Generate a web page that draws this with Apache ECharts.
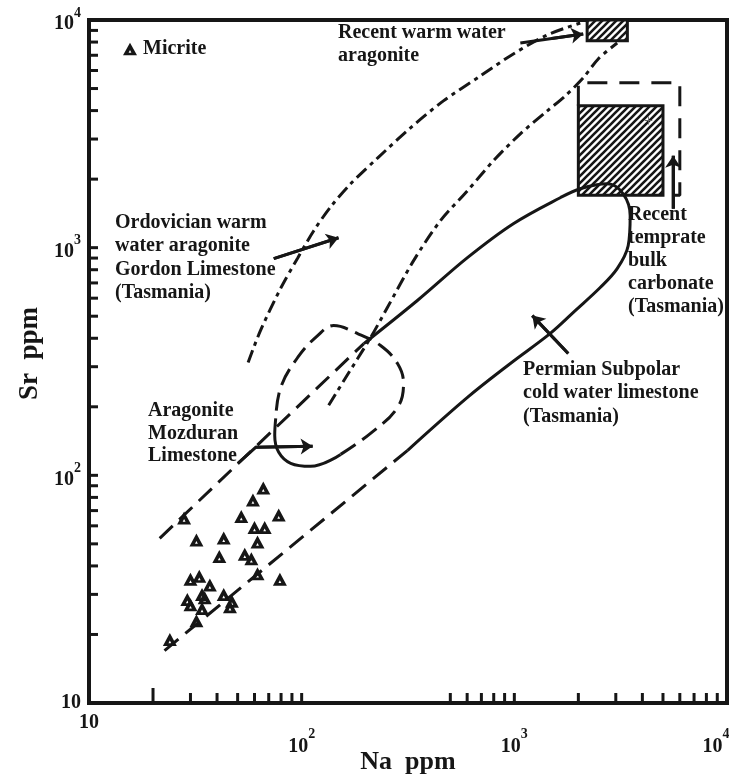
<!DOCTYPE html>
<html>
<head>
<meta charset="utf-8">
<script src="https://cdn.jsdelivr.net/npm/echarts@6/dist/echarts.min.js"></script>
<style>
  html, body { margin: 0; padding: 0; background: #ffffff; }
  #chart { width: 729px; height: 780px; }
</style>
</head>
<body>
<div id="chart"></div>
<script>
// ---- Micrite samples (Na ppm, Sr ppm) ----
const micriteNa = [66, 59, 28, 52, 78, 60, 67, 32, 43, 62, 41, 54, 58, 62, 79, 33, 30, 37, 34, 35, 29, 30, 43, 47, 46, 34, 32, 24];
const micriteSr = [88, 78, 65, 66, 67, 59, 59, 52, 53, 51, 44, 45, 43, 37, 35, 36, 35, 33, 30, 29, 28.5, 27, 30, 28, 26.5, 26, 23, 19];

// ---- Ordovician warm water aragonite field (two dash-dot bounds) ----
const ordoLeftNa  = [56, 64, 80, 96, 114, 137, 170, 228, 325, 464, 693, 989, 1429, 2041];
const ordoLeftSr  = [313, 432, 668, 904, 1187, 1513, 1909, 2481, 3360, 4413, 5681, 7095, 8596, 9700];
const ordoRightNa = [134, 158, 211, 253, 336, 449, 602, 797, 1067, 1429, 1735, 2108, 2480, 3045];
const ordoRightSr = [203, 261, 403, 546, 877, 1313, 1778, 2407, 3162, 3990, 4642, 5567, 6745, 7928];

// ---- Permian subpolar cold water limestone envelope ----
const permUpperDashNa = [21.5, 196];
const permUpperDashSr = [52.9, 379];
const permSolidNa = [196, 350, 602, 989, 1644, 2041, 2733, 3249, 3505, 3430, 3045, 2534, 1934, 1476, 958, 602, 315];
const permSolidSr = [379, 586, 904, 1274, 1657, 1815, 1909, 1725, 1382, 1020, 809, 668, 529, 420, 310, 220, 128.8];
const permLowerDashNa = [315, 21.3];
const permLowerDashSr = [128.8, 16.2];

// ---- Aragonite, Mozduran Limestone field ----
const mozDashNa  = [152.5, 210.8, 282.3, 301.2, 282.3, 234.9, 183.2, 141.3, 118.9, 95.8, 79.7, 75.5];
const mozDashSr  = [123.6, 152.8, 198.7, 253.3, 309.8, 371.7, 419.6, 455, 411, 329.3, 243.2, 177.8];
const mozSolidNa = [75.5, 74.7, 78.0, 88.8, 110.2, 152.5];
const mozSolidSr = [177.8, 149.7, 126.2, 112.9, 109.5, 123.6];

// ---- Recent carbonate boxes [Na min, Sr min, Na max, Sr max] ----
const warmAragoniteBox = [2200, 8100, 3400, 10000];
const temperateBox     = [2000, 1700, 5000, 4200];
const temperateRangeNa = [2000, 2000, 6000, 6000, 5000];
const temperateRangeSr = [4200, 5300, 5300, 1700, 1700];

// ---- Pointer arrows (Na, Sr), head at the last point ----
const arrowWarm      = [[1067, 7928], [1500, 8300], [2108, 8683]];
const arrowOrdo      = [[73.9, 895], [149, 1106]];
const arrowTemperate = [[5579, 1483], [5579, 2532]];
const arrowPermian   = [[1792, 343], [1215, 503]];
const arrowMozduran  = [[50.1, 112.9], [60.8, 132.7], [112.6, 134.1]];

// ---- Axis ticks ----
const xTickValues = [20, 30, 40, 50, 60, 70, 80, 90, 100, 500, 600, 700, 800, 900, 1000,
                     2000, 3000, 4000, 5000, 6000, 7000, 8000, 9000];
const yTickValues = [20, 30, 40, 50, 60, 70, 80, 90, 100, 200, 300, 400, 500, 600, 700, 800, 900, 1000,
                     2000, 3000, 4000, 5000, 6000, 7000, 8000, 9000];
const xLongTick = 20;

const INK = '#161616';
const SERIF = '"Liberation Serif", "Times New Roman", serif';
// solid triangle with a small open centre
const TRIANGLE = 'path://M0,-11L10,7L-10,7Z M0,-0.5L-2,3.3L2,3.3Z';

function pairs(a, b) { return a.map((v, i) => [v, b[i]]); }

function hatchCanvas() {
  const s = 7;
  const c = document.createElement('canvas');
  c.width = s; c.height = s;
  const g = c.getContext('2d');
  g.fillStyle = '#ffffff';
  g.fillRect(0, 0, s, s);
  g.strokeStyle = INK;
  g.lineWidth = 2.6;
  g.beginPath();
  g.moveTo(-1, s + 1); g.lineTo(s + 1, -1);
  g.moveTo(-1, 1); g.lineTo(1, -1);
  g.moveTo(s - 1, s + 1); g.lineTo(s + 1, s - 1);
  g.stroke();
  return c;
}
const hatch = hatchCanvas();

function curve(name, na, sr, dash, smooth) {
  return {
    type: 'line', name: name, data: pairs(na, sr), symbol: 'none', smooth: smooth,
    silent: true, z: 3,
    lineStyle: { color: INK, width: 3, type: dash, cap: 'butt' }
  };
}

const arrows = [arrowWarm, arrowOrdo, arrowTemperate, arrowPermian, arrowMozduran];

function expLabel(prefix) {
  return function (v) {
    const e = Math.round(Math.log10(v));
    if (e === 1) return '{' + prefix + 'p|10}';
    // the last x label sits against the right edge of the frame
    const sup = (prefix === 'x' && e === 4) ? 'xe' : prefix + 's';
    return '{' + prefix + 'b|10}{' + sup + '|' + e + '}';
  };
}

const labelFont = { fontFamily: SERIF, fontWeight: 'bold', color: INK };

const chart = echarts.init(document.getElementById('chart'), null, { renderer: 'canvas' });

chart.setOption({
  backgroundColor: '#ffffff',
  animation: false,
  grid: {
    left: 89, right: 2, top: 20, bottom: 77,
    containLabel: false, outerBoundsMode: 'none',
    show: true, borderColor: INK, borderWidth: 4, backgroundColor: 'transparent'
  },
  legend: {
    data: ['Micrite'], left: 123, top: 39, padding: 0,
    itemWidth: 14, itemHeight: 13, itemGap: 6,
    textStyle: { fontFamily: SERIF, fontWeight: 'bold', fontSize: 20, color: INK, padding: [0, 0, 0, 1] }
  },
  xAxis: {
    type: 'log', logBase: 10, min: 10, max: 10000,
    name: 'Na  ppm', nameLocation: 'middle', nameGap: 46, nameMoveOverlap: false,
    nameTextStyle: { fontFamily: SERIF, fontWeight: 'bold', fontSize: 26, color: INK },
    axisLine: { show: false }, axisTick: { show: false }, splitLine: { show: false }, minorTick: { show: false },
    axisLabel: {
      margin: 10, showMinLabel: true, showMaxLabel: true, hideOverlap: false,
      formatter: expLabel('x'),
      rich: {
        xp: Object.assign({ fontSize: 20, verticalAlign: 'top' }, labelFont),
        xb: Object.assign({ fontSize: 20, verticalAlign: 'top', padding: [24, 0, 0, 0] }, labelFont),
        xs: Object.assign({ fontSize: 14, verticalAlign: 'top', padding: [14, 0, 0, 0] }, labelFont),
        xe: Object.assign({ fontSize: 14, verticalAlign: 'top', padding: [14, 22, 0, 0] }, labelFont)
      }
    }
  },
  yAxis: {
    type: 'log', logBase: 10, min: 10, max: 10000,
    name: 'Sr  ppm', nameLocation: 'middle', nameGap: 45, nameRotate: 90, nameMoveOverlap: false,
    nameTextStyle: { fontFamily: SERIF, fontWeight: 'bold', fontSize: 27, color: INK, padding: [0, 0, 0, 16] },
    axisLine: { show: false }, axisTick: { show: false }, splitLine: { show: false }, minorTick: { show: false },
    axisLabel: {
      margin: 8, showMinLabel: true, showMaxLabel: true, hideOverlap: false,
      formatter: expLabel('y'),
      rich: {
        yp: Object.assign({ fontSize: 20, verticalAlign: 'top' }, labelFont),
        yb: Object.assign({ fontSize: 20, verticalAlign: 'top', padding: [8, 0, 0, 0] }, labelFont),
        ys: Object.assign({ fontSize: 14, verticalAlign: 'top' }, labelFont)
      }
    }
  },
  series: [
    // x-axis ticks (pointing up into the plot)
    {
      type: 'custom', silent: true, z: 2,
      data: xTickValues.map(v => [v, 10]),
      renderItem: function (params, api) {
        const v = api.value(0);
        const p = api.coord([v, 10]);
        const len = v === xLongTick ? 15 : 10;
        return { type: 'line', shape: { x1: p[0], y1: p[1], x2: p[0], y2: p[1] - len },
                 style: { stroke: INK, lineWidth: 3 } };
      }
    },
    // y-axis ticks (pointing right into the plot)
    {
      type: 'custom', silent: true, z: 2,
      data: yTickValues.map(v => [10, v]),
      renderItem: function (params, api) {
        const p = api.coord([10, api.value(1)]);
        return { type: 'line', shape: { x1: p[0], y1: p[1], x2: p[0] + 9, y2: p[1] },
                 style: { stroke: INK, lineWidth: 3 } };
      }
    },
    // hatched boxes
    {
      type: 'custom', silent: true, z: 2,
      encode: { x: [0, 2], y: [1, 3] },
      data: [warmAragoniteBox, temperateBox],
      renderItem: function (params, api) {
        const p0 = api.coord([api.value(0), api.value(1)]);
        const p1 = api.coord([api.value(2), api.value(3)]);
        return {
          type: 'rect',
          shape: { x: Math.min(p0[0], p1[0]), y: Math.min(p0[1], p1[1]),
                   width: Math.abs(p1[0] - p0[0]), height: Math.abs(p1[1] - p0[1]) },
          style: { fill: { type: 'pattern', image: hatch, repeat: 'repeat' }, stroke: INK, lineWidth: 3 }
        };
      }
    },
    curve('ordoLeft', ordoLeftNa, ordoLeftSr, [13, 5, 4, 5], 0.3),
    curve('ordoRight', ordoRightNa, ordoRightSr, [13, 5, 4, 5], 0.3),
    curve('permUpperDash', permUpperDashNa, permUpperDashSr, [18, 9], false),
    curve('permSolid', permSolidNa, permSolidSr, 'solid', 0.35),
    curve('permLowerDash', permLowerDashNa, permLowerDashSr, [18, 9], false),
    curve('mozDash', mozDashNa, mozDashSr, [18, 8], 0.4),
    curve('mozSolid', mozSolidNa, mozSolidSr, 'solid', 0.4),
    curve('temperateRange', temperateRangeNa, temperateRangeSr, [20, 12], false),
    // arrow shafts
    {
      type: 'lines', coordinateSystem: 'cartesian2d', polyline: true, silent: true, z: 4,
      symbol: 'none',
      lineStyle: { color: INK, width: 3, opacity: 1, curveness: 0 },
      data: arrows.map(a => ({ coords: a }))
    },
    // arrow heads on the final segment
    {
      type: 'lines', coordinateSystem: 'cartesian2d', polyline: false, silent: true, z: 4,
      symbol: ['none', 'arrow'], symbolSize: 12,
      lineStyle: { color: INK, width: 3, opacity: 1, curveness: 0 },
      data: arrows.map(a => ({ coords: a.slice(-2) }))
    },
    // Micrite samples
    {
      type: 'scatter', name: 'Micrite', data: pairs(micriteNa, micriteSr),
      symbol: TRIANGLE, symbolSize: [14, 13], z: 5,
      itemStyle: { color: INK, opacity: 1 }
    }
  ],
  graphic: [
    { type: 'text', left: 338, top: 21, z: 10, silent: true,
      style: { text: 'Recent warm water\naragonite', font: 'bold 20px ' + SERIF, fill: INK, lineHeight: 23.5 } },
    { type: 'text', left: 115, top: 211, z: 10, silent: true,
      style: { text: 'Ordovician warm\nwater aragonite\nGordon Limestone\n(Tasmania)', font: 'bold 20px ' + SERIF, fill: INK, lineHeight: 23.5 } },
    { type: 'text', left: 148, top: 400, z: 10, silent: true,
      style: { text: 'Aragonite\nMozduran\nLimestone', font: 'bold 20px ' + SERIF, fill: INK, lineHeight: 22.5 } },
    { type: 'text', left: 628, top: 203, z: 10, silent: true,
      style: { text: 'Recent\ntemprate\nbulk\ncarbonate\n(Tasmania)', font: 'bold 20px ' + SERIF, fill: INK, lineHeight: 23 } },
    { type: 'text', left: 523, top: 358, z: 10, silent: true,
      style: { text: 'Permian Subpolar\ncold water limestone\n(Tasmania)', font: 'bold 20px ' + SERIF, fill: INK, lineHeight: 23.5 } },
    { type: 'text', left: 644, top: 114, z: 10, silent: true,
      style: { text: '+', font: '16px ' + SERIF, fill: '#666' } }
  ]
});
</script>
</body>
</html>
